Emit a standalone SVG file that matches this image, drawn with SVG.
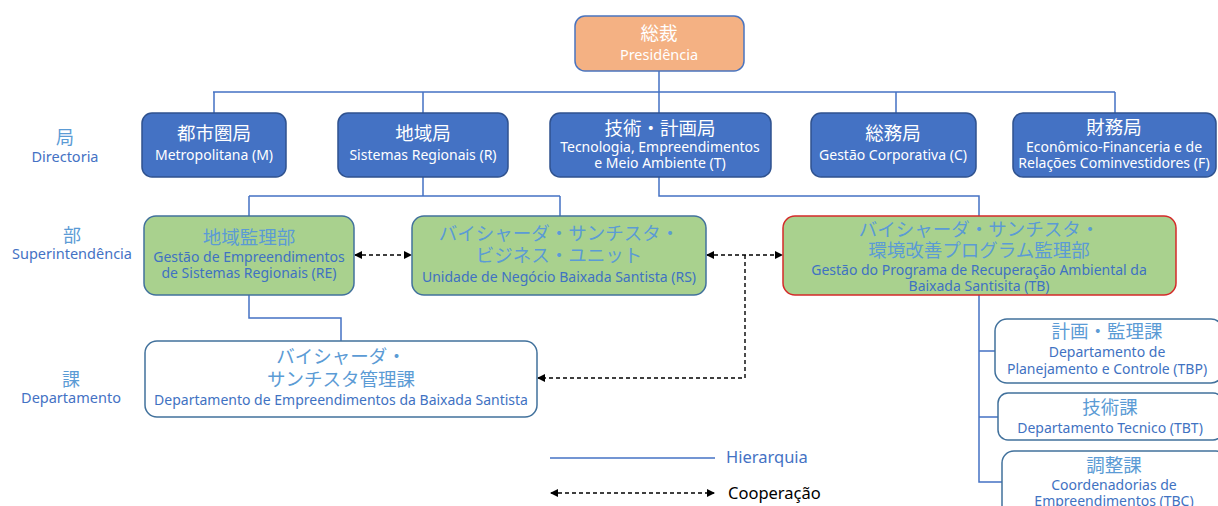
<svg xmlns="http://www.w3.org/2000/svg" width="1218" height="506" viewBox="0 0 1218 506">
<defs>
<style>
text{font-family:"Noto Sans","Noto Sans CJK JP",sans-serif;text-anchor:middle}
.j{font-size:18.5px}
.l{font-size:14px}
.w{fill:#ffffff}
.bj{fill:#5B9BD5}
.bl{fill:#3F72C2}
.dir{fill:#4472C4;stroke:#2F528F;stroke-width:1.5}
.pres{fill:#F4B183;stroke:#4A74BE;stroke-width:1.5}
.sup{fill:#A9D18E;stroke:#41719C;stroke-width:1.5}
.red{fill:#A9D18E;stroke:#D42A2A;stroke-width:1.5}
.dep{fill:#ffffff;stroke:#41719C;stroke-width:1.5}
.h{fill:none;stroke:#4472C4;stroke-width:1.5}
.c{fill:none;stroke:#000;stroke-width:1.4;stroke-dasharray:4 3}
.lab{fill:#4472C4;font-size:14.5px}
.labj{fill:#5B9BD5;font-size:18px}
</style>
<marker id="ar" viewBox="0 0 8 8" refX="7" refY="4" markerWidth="8" markerHeight="8" markerUnits="userSpaceOnUse" orient="auto-start-reverse">
<path d="M0,0 L8,4 L0,8 z" fill="#000"/>
</marker>
</defs>
<rect width="1218" height="506" fill="#ffffff"/>

<g id="connectors">
<path class="h" d="M659,71 V92 M213,92 H1115 M214,92 V113 M423,92 V113 M659,92 V113 M896,92 V113 M1115,92 V113"/>
<path class="h" d="M423,177 V196 M249,196 H560 M249,196 V216 M560,196 V216"/>
<path class="h" d="M659,177 V196 H979 V216"/>
<path class="h" d="M249,295 V318 H341 V341"/>
<path class="h" d="M979,295 V482 H1002 M979,351 H995 M979,417 H998"/>
<line class="c" x1="355" y1="255" x2="411" y2="255" marker-start="url(#ar)" marker-end="url(#ar)"/>
<line class="c" x1="707" y1="255" x2="782" y2="255" marker-start="url(#ar)" marker-end="url(#ar)"/>
<path class="c" d="M745,255 V378 H538" marker-end="url(#ar)"/>
</g>

<g id="legend">
<line x1="550" y1="458" x2="715" y2="458" stroke="#4472C4" stroke-width="1.5"/>
<text x="726" y="463" style="font-size:16.5px;text-anchor:start;fill:#4472C4">Hierarquia</text>
<line class="c" x1="551" y1="493" x2="714" y2="493" marker-start="url(#ar)" marker-end="url(#ar)"/>
<text x="728" y="499" style="font-size:16.5px;text-anchor:start;fill:#000">Cooperação</text>
</g>

<g id="levels">
<text class="labj" x="65" y="144">局</text>
<text class="lab" x="65" y="162">Directoria</text>
<text class="labj" x="72" y="242">部</text>
<text class="lab" x="72" y="259">Superintendência</text>
<text class="labj" x="71" y="386">課</text>
<text class="lab" x="71" y="403">Departamento</text>
</g>

<g id="presidencia">
<rect class="pres" x="575" y="16" width="169" height="55" rx="10"/>
<text class="j w" x="659" y="40">総裁</text>
<text class="w" x="659" y="60" style="font-size:14.5px">Presidência</text>
</g>

<g id="M">
<rect class="dir" x="142" y="113" width="144" height="64" rx="10"/>
<text class="j w" x="214" y="140">都市圏局</text>
<text class="l w" x="214" y="160">Metropolitana (M)</text>
</g>

<g id="R">
<rect class="dir" x="338" y="113" width="170" height="64" rx="10"/>
<text class="j w" x="423" y="140">地域局</text>
<text class="l w" x="423" y="160">Sistemas Regionais (R)</text>
</g>

<g id="T">
<rect class="dir" x="550" y="113" width="221" height="64" rx="10"/>
<text class="j w" x="660" y="135">技術・計画局</text>
<text class="l w" x="660" y="152">Tecnologia, Empreendimentos</text>
<text class="l w" x="660" y="168">e Meio Ambiente (T)</text>
</g>

<g id="C">
<rect class="dir" x="811" y="113" width="165" height="64" rx="10"/>
<text class="j w" x="893" y="140">総務局</text>
<text class="l w" x="893" y="160">Gestão Corporativa (C)</text>
</g>

<g id="F">
<rect class="dir" x="1013" y="113" width="203" height="64" rx="10"/>
<text class="j w" x="1114" y="134">財務局</text>
<text class="l w" x="1114" y="152">Econômico-Financeria e de</text>
<text class="l w" x="1114" y="168">Relações Cominvestidores (F)</text>
</g>

<g id="RE">
<rect class="sup" x="144" y="216" width="210" height="79" rx="12"/>
<text class="j bj" x="249" y="244">地域監理部</text>
<text class="l bl" x="249" y="262">Gestão de Empreendimentos</text>
<text class="l bl" x="249" y="278">de Sistemas Regionais (RE)</text>
</g>

<g id="RS">
<rect class="sup" x="412" y="216" width="294" height="79" rx="12"/>
<text class="j bj" x="559" y="240">バイシャーダ・サンチスタ・</text>
<text class="j bj" x="559" y="262">ビジネス・ユニット</text>
<text class="l bl" x="559" y="282">Unidade de Negócio Baixada Santista (RS)</text>
</g>

<g id="TB">
<rect class="red" x="783" y="216" width="393" height="79" rx="12"/>
<text class="j bj" x="979" y="236">バイシャーダ・サンチスタ・</text>
<text class="j bj" x="979" y="257">環境改善プログラム監理部</text>
<text class="l bl" x="979" y="275">Gestão do Programa de Recuperação Ambiental da</text>
<text class="l bl" x="979" y="291">Baixada Santisita (TB)</text>
</g>

<g id="BS">
<rect class="dep" x="145" y="341" width="392" height="76" rx="12"/>
<text class="j bj" x="341" y="363">バイシャーダ・</text>
<text class="j bj" x="341" y="386">サンチスタ管理課</text>
<text class="l bl" x="341" y="405">Departamento de Empreendimentos da Baixada Santista</text>
</g>

<g id="TBP">
<rect class="dep" x="995" y="319" width="228" height="64" rx="12"/>
<text class="j bj" x="1107" y="338">計画・監理課</text>
<text class="l bl" x="1107" y="357">Departamento de</text>
<text class="l bl" x="1107" y="374">Planejamento e Controle (TBP)</text>
</g>

<g id="TBT">
<rect class="dep" x="998" y="393" width="225" height="47" rx="10"/>
<text class="j bj" x="1110" y="414">技術課</text>
<text class="l bl" x="1110" y="433">Departamento Tecnico (TBT)</text>
</g>

<g id="TBC">
<rect class="dep" x="1002" y="451" width="226" height="70" rx="12"/>
<text class="j bj" x="1114" y="472">調整課</text>
<text class="l bl" x="1114" y="490">Coordenadorias de</text>
<text class="l bl" x="1114" y="506">Empreendimentos (TBC)</text>
</g>
</svg>
